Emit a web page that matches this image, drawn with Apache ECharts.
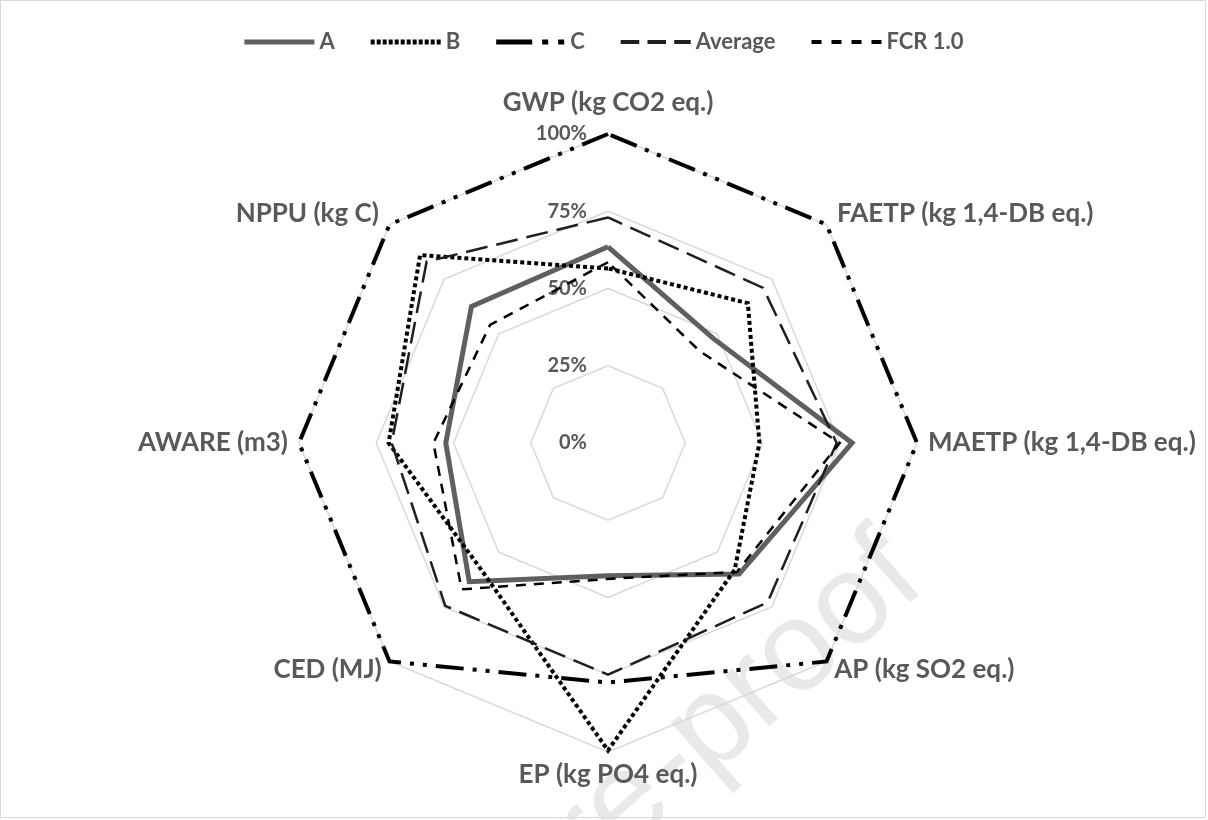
<!DOCTYPE html>
<html><head><meta charset="utf-8">
<script src="https://cdn.jsdelivr.net/npm/echarts@6/dist/echarts.min.js"></script>
<style>html,body{margin:0;padding:0;background:#fff}#c{width:1208px;height:820px}</style>
</head><body><div id="c"></div>
<script>
// Categories in clockwise order starting at the top
const categories = ['GWP (kg CO2 eq.)', 'FAETP (kg 1,4-DB eq.)', 'MAETP (kg 1,4-DB eq.)', 'AP (kg SO2 eq.)', 'EP (kg PO4 eq.)', 'CED (MJ)', 'AWARE (m3)', 'NPPU (kg C)'];
const seriesNames = ['A', 'B', 'C', 'Average', 'FCR 1.0'];
const valuesA = [63.5, 48, 79, 60, 43, 63.5, 52.5, 62.5];
const valuesB = [56.5, 64, 49, 58, 99.5, 58, 71, 86];
const valuesC = [100, 100, 100, 100, 77.5, 100, 100, 100];
const valuesAverage = [73, 71, 74, 73, 75, 74.5, 70, 83];
const valuesFCR = [58.5, 42, 75, 59, 44, 67, 56.5, 54];
const axisMin = 0, axisMax = 100, axisSplits = 4; // ticks 0%,25%,50%,75%,100%

const FONT = 'Lato';
const GRAY = '#595959';

// ECharts radar runs counter-clockwise; reorder so the picture runs clockwise
const order = [0, 7, 6, 5, 4, 3, 2, 1];
const reorder = arr => order.map(i => arr[i]);
const nameGaps = [18, 15, 11, 11, 10, 11, 11, 15];

const indicator = order.map((i, k) => ({
  name: categories[i], min: axisMin, max: axisMax,
  nameGap: nameGaps[i],
  axisLabel: k === 0 ? {
    show: true, formatter: '{value}%', color: GRAY, fontWeight: 'bold',
    fontSize: 20, fontFamily: FONT, margin: 21
  } : { show: false }
}));

const styles = [
  { color: '#5f5f5f', width: 5, type: 'solid' },
  { color: '#000000', width: 4, type: [4, 3] },
  { color: '#000000', width: 4, type: [28, 9, 4, 9, 4, 9] },
  { color: '#1f1f1f', width: 2.5, type: [22, 9] },
  { color: '#000000', width: 2.5, type: [10, 8] }
];
const icons = [
  'path://M0,0H70V5H0Z',
  'path://' + Array.from({length: 12}, (_, k) => `M${k*6},0h4v5h-4Z`).join(''),
  'path://M0,0H36V5H0ZM46,0H52V5H46ZM62,0H68V5H62Z',
  'path://M0,0H18V4H0ZM26,0H44V4H26ZM52,0H68V4H52Z',
  'path://M0,0H10V4H0ZM20,0H30V4H20ZM40,0H50V4H40ZM60,0H70V4H60Z'
];
const allValues = [valuesA, valuesB, valuesC, valuesAverage, valuesFCR];

const chart = echarts.init(document.getElementById('c'), null, { renderer: 'canvas' });
chart.setOption({
  backgroundColor: '#ffffff',
  animation: false,
  textStyle: { fontFamily: FONT },
  legend: {
    top: 26, left: 'center',
    itemWidth: 70, itemHeight: 5, itemGap: 36,
    textStyle: { color: GRAY, fontWeight: 'bold', fontSize: 22, fontFamily: FONT },
    data: seriesNames.map((n, i) => ({ name: n, icon: icons[i] }))
  },
  graphic: [
    {
      type: 'text', z: -10, x: 905, y: 560, rotation: 0.72, silent: true,
      style: { text: 'Journal Pre-proof', fill: '#e9e9e9', fontSize: 128, fontFamily: 'Arial, Liberation Sans', align: 'right', verticalAlign: 'middle' }
    },
    {
      type: 'rect', z: -5, silent: true,
      shape: { x: 0.5, y: 0.5, width: 1205, height: 817 },
      style: { fill: 'none', stroke: '#d9d9d9', lineWidth: 1 }
    }
  ],
  radar: {
    center: [608, 443],
    radius: 309,
    startAngle: 90,
    splitNumber: axisSplits,
    shape: 'polygon',
    indicator: indicator,
    axisName: { color: GRAY, fontWeight: 'bold', fontSize: 26, fontFamily: FONT },
    axisLine: { show: false },
    axisTick: { show: false },
    splitArea: { show: false },
    splitLine: { lineStyle: { color: '#d9d9d9', width: 1.5 } }
  },
  series: seriesNames.map((n, i) => ({
    name: n,
    type: 'radar',
    symbol: 'none',
    z: 2 + i,
    itemStyle: { color: styles[i].color },
    lineStyle: { color: styles[i].color, width: styles[i].width, type: styles[i].type, cap: 'butt', join: 'miter' },
    data: [{ name: n, value: reorder(allValues[i]) }]
  }))
});
</script></body></html>
